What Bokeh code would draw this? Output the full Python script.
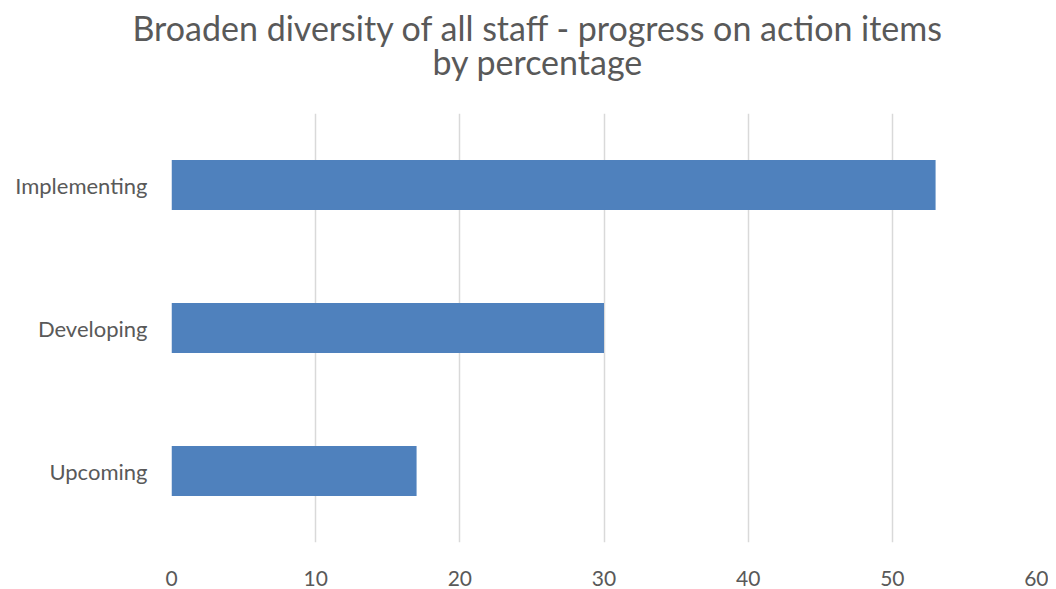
from bokeh.plotting import figure
from bokeh.models import ColumnDataSource, Range1d, FixedTicker, Title
from bokeh.embed import file_html
from bokeh.resources import INLINE

categories = ["Upcoming", "Developing", "Implementing"]
values = [17, 30, 53]
x_ticks = [0, 10, 20, 30, 40, 50, 60]
title_lines = ["Broaden diversity of all staff - progress on action items", "by percentage"]

FONT = "Lato"
GREY = "#595959"

src = ColumnDataSource(dict(cat=categories, val=values))

p = figure(width=1048, height=589, y_range=categories, x_range=Range1d(0, 60),
           output_backend="svg", toolbar_location=None,
           min_border_left=171, min_border_right=12, min_border_top=113, min_border_bottom=47)

p.hbar(y="cat", right="val", left=0, height=0.35, source=src,
       fill_color="#4F81BD", line_color=None)

def style_title(t, offset, standoff):
    t.align = "left"
    t.offset = offset
    t.standoff = standoff
    t.text_font = FONT
    t.text_font_size = "34px"
    t.text_font_style = "normal"
    t.text_color = GREY

p.title.text = title_lines[0]
style_title(p.title, -39, -82)
t2 = Title(text=title_lines[1])
style_title(t2, 261, 64)
p.add_layout(t2, "above")

p.outline_line_color = None
p.background_fill_color = "white"
p.border_fill_color = "white"

p.ygrid.grid_line_color = None
p.xgrid.grid_line_color = "#d9d9d9"
p.xgrid.grid_line_width = 1.5
p.xaxis.ticker = FixedTicker(ticks=x_ticks)

for ax in (p.xaxis[0], p.yaxis[0]):
    ax.axis_line_color = None
    ax.major_tick_line_color = None
    ax.minor_tick_line_color = None
    ax.major_label_text_font = FONT
    ax.major_label_text_color = GREY

p.xaxis.major_label_text_font_size = "21px"
p.yaxis.major_label_text_font_size = "22px"
p.yaxis.major_label_standoff = 18
p.xaxis.major_label_standoff = 22
p.y_range.range_padding = 0

open("out.html", "w").write(file_html(p, INLINE))
